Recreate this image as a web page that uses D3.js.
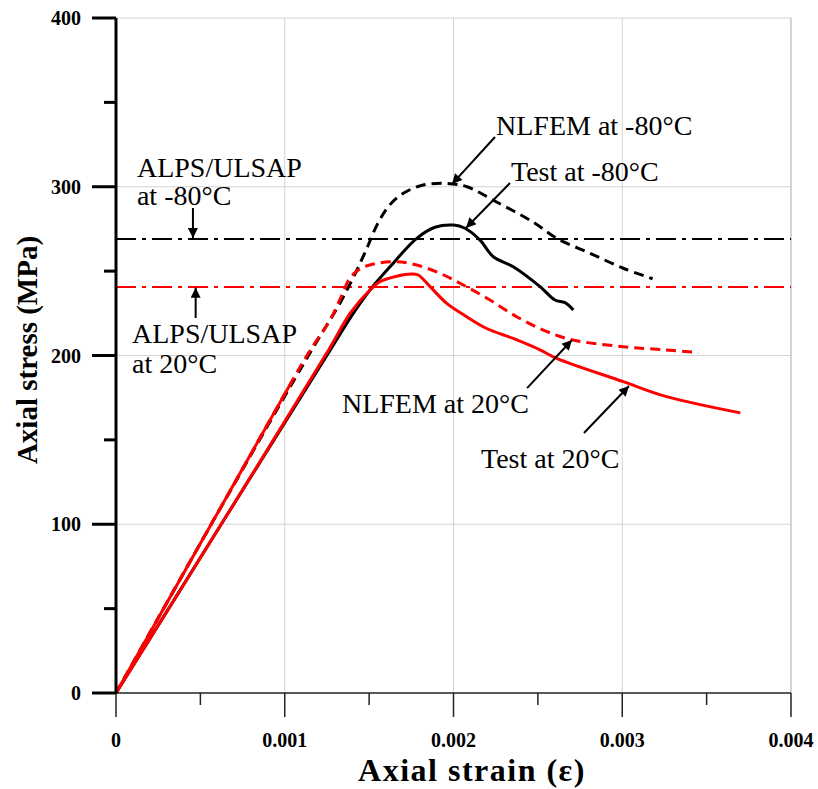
<!DOCTYPE html>
<html>
<head>
<meta charset="utf-8">
<script src="https://cdn.jsdelivr.net/npm/d3@7"></script>
<style>
  body { margin: 0; background: #fff; }
  svg { display: block; }
  text { font-family: "Liberation Serif", "Times New Roman", serif; }
</style>
</head>
<body>
<svg id="chart" width="818" height="789"></svg>
<script>
// data: [strain, stress MPa]
const nlfemM80 = [[0,0],[0.00057,101],[0.00117,205],[0.00131,228],[0.0014,245],[0.00148,262],[0.00155,278],[0.00162,289],[0.0017,296],[0.00182,301],[0.00196,302],[0.00208,300],[0.002236,292],[0.002473,279],[0.002611,269.5],[0.002809,260.6],[0.003006,251.7],[0.00318,245.5]];
const testM80 = [[0,0],[0.00063,101],[0.001268,203],[0.001406,225],[0.001505,238.8],[0.001624,252.6],[0.001782,269.4],[0.00189,276],[0.002,277.3],[0.002068,275.4],[0.002157,268.4],[0.002236,258.5],[0.002354,252.6],[0.002513,240.8],[0.002601,232.9],[0.002661,231.3],[0.00271,227]];
const nlfem20 = [[0,0],[0.00057,101],[0.00105,186],[0.00115,203],[0.001268,221],[0.00134,236],[0.001387,246],[0.00145,251.5],[0.001525,254.2],[0.001663,255.6],[0.001782,253.6],[0.00192,248.7],[0.002058,241.8],[0.002216,232.9],[0.002374,223],[0.002532,215.1],[0.00269,209.6],[0.003006,205.2],[0.003263,203.3],[0.003451,201.8]];
const test20 = [[0,0],[0.00063,101],[0.001258,203],[0.001387,225],[0.001505,238.8],[0.001564,243.7],[0.001663,247],[0.001752,248.3],[0.001791,247.7],[0.001861,240.8],[0.00196,230.9],[0.002078,223],[0.002197,216],[0.002354,210.1],[0.002513,203.3],[0.002611,198.3],[0.003006,184.5],[0.003263,175.6],[0.0037,166]];
const alpsM80 = 269;
const alps20 = 240.6;
// the dense elastic part of the NLFEM curve reads as a solid line
const denseUpTo = 0.00105;

const xTicks = [0, 0.001, 0.002, 0.003, 0.004];
const xTickLabels = ["0", "0.001", "0.002", "0.003", "0.004"];
const xMinor = [0.0005, 0.0015, 0.0025, 0.0035];
const yTicks = [0, 100, 200, 300, 400];
const yMinor = [50, 150, 250, 350];

const labels = [
  {t: "ALPS/ULSAP", e: 0.000124, s: 305.8},
  {t: "at -80°C", e: 0.000124, s: 289.2},
  {t: "ALPS/ULSAP", e: 0.000095, s: 207.4},
  {t: "at 20°C", e: 0.000095, s: 189.6},
  {t: "NLFEM at -80°C", e: 0.002252, s: 330.7},
  {t: "Test at -80°C", e: 0.002341, s: 303.4},
  {t: "NLFEM at 20°C", e: 0.001339, s: 165.9},
  {t: "Test at 20°C", e: 0.002163, s: 133.3}
];
const arrows = [
  [0.000456, 287.4, 0.000456, 269.6],
  [0.000472, 222.2, 0.000472, 240.2],
  [0.002246, 329.5, 0.001991, 301.6],
  [0.002335, 302.2, 0.002074, 275.6],
  [0.002436, 180.7, 0.002702, 209.2],
  [0.002773, 154.1, 0.00304, 181.9]
];

const svg = d3.select('#chart');
const x = d3.scaleLinear().domain([0, 0.004]).range([116, 791]);
const y = d3.scaleLinear().domain([0, 400]).range([693, 18]);

// grid
svg.append('g').selectAll('line').data(xTicks.slice(1)).join('line')
  .attr('x1', d => x(d)).attr('x2', d => x(d)).attr('y1', y(400)).attr('y2', y(0))
  .attr('stroke', '#d4d4d4').attr('stroke-width', d => d === 0.004 ? 2 : 1);
svg.append('g').selectAll('line').data(yTicks.slice(1)).join('line')
  .attr('x1', x(0)).attr('x2', x(0.004)).attr('y1', d => y(d)).attr('y2', d => y(d))
  .attr('stroke', '#d4d4d4').attr('stroke-width', 1);

// reference lines
svg.append('line').attr('x1', x(0)).attr('x2', x(0.004)).attr('y1', y(alpsM80)).attr('y2', y(alpsM80))
  .attr('stroke', '#000').attr('stroke-width', 2).attr('stroke-dasharray', '20,6,4,6');
svg.append('line').attr('x1', x(0)).attr('x2', x(0.004)).attr('y1', y(alps20)).attr('y2', y(alps20))
  .attr('stroke', '#ff0000').attr('stroke-width', 2).attr('stroke-dasharray', '20,6,4,6');

// curves (black underneath red, as in the figure)
const line = d3.line().x(d => x(d[0])).y(d => y(d[1])).curve(d3.curveCatmullRom.alpha(0.5));
const series = [
  {d: testM80, c: '#000', dash: null},
  {d: nlfemM80, c: '#000', dash: '10,6'},
  {d: test20, c: '#ff0000', dash: null},
  {d: nlfem20, c: '#ff0000', dash: '10,6'},
  {d: nlfem20.filter(p => p[0] <= denseUpTo), c: '#ff0000', dash: null}
];
svg.append('g').selectAll('path').data(series).join('path')
  .attr('d', d => line(d.d)).attr('fill', 'none')
  .attr('stroke', d => d.c).attr('stroke-width', 3)
  .attr('stroke-dasharray', d => d.dash);

// axes
svg.append('line').attr('x1', x(0)).attr('x2', x(0.004)).attr('y1', y(0)).attr('y2', y(0))
  .attr('stroke', '#222').attr('stroke-width', 1.5);
svg.append('g').selectAll('line').data(xTicks).join('line')
  .attr('x1', d => x(d)).attr('x2', d => x(d)).attr('y1', y(0)).attr('y2', y(0) + 24)
  .attr('stroke', '#222').attr('stroke-width', 1.5);
svg.append('g').selectAll('line').data(xMinor).join('line')
  .attr('x1', d => x(d)).attr('x2', d => x(d)).attr('y1', y(0)).attr('y2', y(0) + 12)
  .attr('stroke', '#222').attr('stroke-width', 1.5);
svg.append('line').attr('x1', x(0)).attr('x2', x(0)).attr('y1', y(400)).attr('y2', y(0))
  .attr('stroke', '#000').attr('stroke-width', 3);
svg.append('g').selectAll('line').data(yTicks).join('line')
  .attr('x1', x(0) - 24).attr('x2', x(0)).attr('y1', d => y(d)).attr('y2', d => y(d))
  .attr('stroke', '#000').attr('stroke-width', 3);
svg.append('g').selectAll('line').data(yMinor).join('line')
  .attr('x1', x(0) - 12).attr('x2', x(0)).attr('y1', d => y(d)).attr('y2', d => y(d))
  .attr('stroke', '#000').attr('stroke-width', 3);

svg.append('g').selectAll('text').data(xTicks).join('text')
  .attr('x', d => x(d)).attr('y', 747).attr('text-anchor', 'middle')
  .attr('font-size', 20).attr('font-weight', 'bold').text((d, i) => xTickLabels[i]);
svg.append('g').selectAll('text').data(yTicks).join('text')
  .attr('x', 81).attr('y', d => y(d) + 7).attr('text-anchor', 'end')
  .attr('font-size', 20).attr('font-weight', 'bold').text(d => d);

svg.append('text').attr('x', 472).attr('y', 781).attr('text-anchor', 'middle')
  .attr('font-size', 32).attr('font-weight', 'bold').attr('letter-spacing', 1.5)
  .text('Axial strain (ε)');
svg.append('text').attr('transform', 'translate(37,350) rotate(-90)').attr('text-anchor', 'middle')
  .attr('font-size', 29).attr('font-weight', 'bold').text('Axial stress (MPa)');

// annotations
svg.append('g').selectAll('text').data(labels).join('text')
  .attr('x', d => x(d.e)).attr('y', d => y(d.s))
  .attr('font-size', 28).text(d => d.t);

svg.append('defs').append('marker').attr('id', 'ah')
  .attr('viewBox', '0 0 10 10').attr('refX', 10).attr('refY', 5)
  .attr('markerWidth', 6).attr('markerHeight', 5).attr('markerUnits', 'strokeWidth')
  .attr('orient', 'auto')
  .append('path').attr('d', 'M0,0L10,5L0,10z').attr('fill', '#000');
svg.append('g').selectAll('line').data(arrows).join('line')
  .attr('x1', d => x(d[0])).attr('y1', d => y(d[1]))
  .attr('x2', d => x(d[2])).attr('y2', d => y(d[3]))
  .attr('stroke', '#000').attr('stroke-width', 2).attr('marker-end', 'url(#ah)');
</script>
</body>
</html>
